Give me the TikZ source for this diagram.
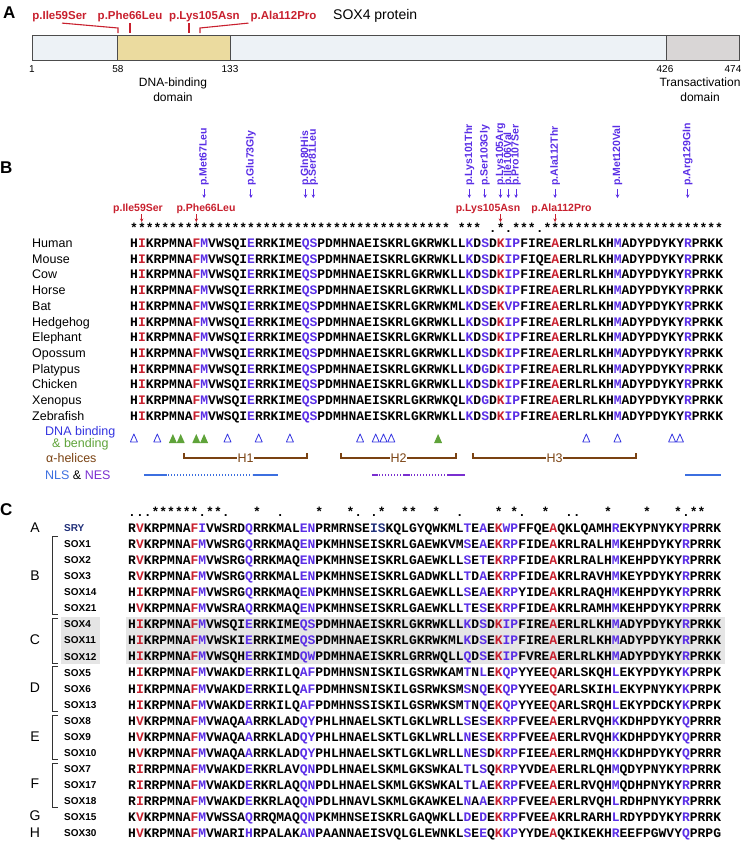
\documentclass[tikz,border=0pt]{standalone}
\usepackage{fontspec}
\setmainfont{Liberation Sans}
\newfontfamily\seqfont{Liberation Mono}
\usetikzlibrary{arrows.meta, positioning}
\definecolor{mutred}{HTML}{C8202E}
\definecolor{mutblue}{HTML}{5A2EE6}
\definecolor{nlsblue}{HTML}{3C6FE0}
\definecolor{nespurple}{HTML}{7A2FD0}
\definecolor{helixbrown}{HTML}{7A4212}
\definecolor{bindgreen}{HTML}{5FA33A}
\definecolor{bindblue}{HTML}{3434E0}
\definecolor{barblue}{HTML}{EDF2F6}
\definecolor{hmgyellow}{HTML}{EBDB9F}
\definecolor{tadgray}{HTML}{D9D6D6}
\definecolor{hilite}{HTML}{E5E5E5}
\definecolor{srynavy}{HTML}{1F2E78}

% residue colouring: index 0 = first residue of the row
\makeatletter
\newcount\resi
\def\redpos{,1,8,47,54,}
\def\bluepos{,9,15,22,23,43,45,48,49,62,71,}
\def\navypos{}
\def\aacol#1{%
  \edef\@tempa{\noexpand\in@{,\the\resi,}{\redpos}}\@tempa
  \ifin@ \textcolor{mutred}{#1}%
  \else
    \edef\@tempa{\noexpand\in@{,\the\resi,}{\bluepos}}\@tempa
    \ifin@ \textcolor{mutblue}{#1}%
    \else
      \edef\@tempa{\noexpand\in@{,\the\resi,}{\navypos}}\@tempa
      \ifin@ \textcolor{srynavy}{#1}\else #1\fi
    \fi
  \fi}
\def\aaloop#1{\ifx#1\relax\else\aacol{#1}\advance\resi by 1\relax\expandafter\aaloop\fi}
\newcommand\aaseq[1]{\resi=0\relax\expandafter\aaloop#1\relax}
\def\consloop#1{\ifx#1\relax\else\if#1-\hphantom{*}\else#1\fi\expandafter\consloop\fi}
\newcommand\conserv[1]{\consloop#1\relax}
\makeatother

\tikzset{
  panel/.style={font=\fontsize{17}{17}\selectfont\bfseries, anchor=west, inner sep=0},
  title/.style={font=\fontsize{14}{14}\selectfont, anchor=west, inner sep=0},
  mutlab/.style={font=\fontsize{11.5}{11.5}\selectfont\bfseries, text=mutred, anchor=base, inner sep=0},
  vlab/.style={font=\fontsize{10.5}{10.5}\selectfont\bfseries, text=mutblue, rotate=90, anchor=west, inner sep=0},
  resnum/.style={font=\fontsize{10}{10}\selectfont, inner sep=0},
  domlab/.style={font=\fontsize{12}{15}\selectfont, align=center, inner sep=0},
  domainbox/.style={draw=black!70, line width=0.8pt, fill=barblue},
  mutline/.style={draw=mutred, line width=1.1pt},
  redarrow/.style={draw=mutred, line width=1pt, -{Stealth[length=3.5pt,width=3.5pt]}},
  bluearrow/.style={draw=mutblue, line width=1pt, -{Stealth[length=3.5pt,width=3.5pt]}},
  seqtxt/.style={font=\seqfont\bfseries\fontsize{13}{13}\selectfont, anchor=base west, inner sep=0},
  species/.style={font=\fontsize{12.5}{12.5}\selectfont, anchor=base west, inner sep=0},
  soxname/.style={font=\fontsize{10}{10}\selectfont\bfseries, anchor=base west, inner sep=0},
  legend/.style={font=\fontsize{12.5}{12.5}\selectfont, anchor=base west, inner sep=0},
  grplet/.style={font=\fontsize{14}{14}\selectfont, inner sep=0},
  opentri/.style={draw=bindblue, line width=0.8pt, line join=round},
  filltri/.style={fill=bindgreen},
  helixline/.style={draw=helixbrown, line width=1.2pt},
  helixlab/.style={font=\fontsize{12.5}{12.5}\selectfont, text=helixbrown, fill=white, inner sep=1pt},
  nlssolid/.style={line width=2pt},
  nlsdots/.style={line width=1.2pt, dash pattern=on 1.2pt off 1.8pt},
  grpbracket/.style={draw=black!80, line width=0.8pt}
}

\begin{document}
\begin{tikzpicture}[x=1pt, y=-1pt]
\useasboundingbox (0,0) rectangle (747,841);

% ---------- A: protein scheme
\node[panel] (pa) at (3,13) {A};
\node[title] (prot) at (333,16) {SOX4 protein};
\draw[domainbox] (32,35) rectangle (117,60);
\draw[domainbox, fill=hmgyellow] (117,35) rectangle (230,60);
\draw[domainbox] (230,35) rectangle (666,60);
\draw[domainbox, fill=tadgray] (666,35) rectangle (739,60);
\node[resnum] (n1) at (32,69) {1};
\node[resnum] (n58) at (118,69) {58};
\node[resnum] (n133) at (230,69) {133};
\node[resnum] (n426) at (665,69) {426};
\node[resnum] (n474) at (733,69) {474};
\node[domlab] (dbd) at (173,89.5) {DNA-binding\\domain};
\node[domlab] (tad) at (700,89.5) {Transactivation\\domain};

\node[mutlab] (a59) at (59.5,19) {p.Ile59Ser};
\node[mutlab] (a66) at (130,19) {p.Phe66Leu};
\node[mutlab] (a105) at (204.5,19) {p.Lys105Asn};
\node[mutlab] (a112) at (283.5,19) {p.Ala112Pro};
\coordinate (r59) at (118,33);
\coordinate (r66) at (130,33);
\coordinate (r105) at (189,33);
\coordinate (r112) at (200,33);
\draw[mutline] ([xshift=2.5pt,yshift=-1.5pt]a59.south) -- (118,28) -- (r59);
\draw[mutline] ([yshift=-1.5pt]a66.south) -- (r66);
\draw[mutline] ([yshift=-1.5pt]r105 |- a105.south) -- (r105);
\draw[mutline] ([xshift=-35pt,yshift=-1.5pt]a112.south) -- (200,28) -- (r112);

% ---------- B: orthologue alignment
\node[panel] (pb) at (0,168) {B};
\foreach \k/\lab in {9/p.Met67Leu, 15/p.Glu73Gly, 22/p.Gln80His, 23/p.Ser81Leu,
    43/p.Lys101Thr, 45/p.Ser103Gly, 47/p.Lys105Arg, 48/p.Ile106Val,
    49/p.Pro107Ser, 54/p.Ala112Thr, 62/p.Met120Val, 71/p.Arg129Gln} {
  \node[vlab] (bm\k) at ({133.9+7.8*\k},186) {\lab};
  \coordinate (bt\k) at ({133.9+7.8*\k},198);
  \draw[bluearrow] ([yshift=-3pt]bm\k.west) -- (bt\k);
}
\foreach \k/\cx/\lab in {1/138/p.Ile59Ser, 8/206/p.Phe66Leu, 47/488/p.Lys105Asn, 54/561.5/p.Ala112Pro} {
  \node[mutlab, font=\fontsize{10.5}{10.5}\selectfont\bfseries] (br\k) at (\cx,211) {\lab};
  \coordinate (bv\k) at ({133.9+7.8*\k},222);
  \draw[redarrow] ([yshift=-1pt]bv\k |- br\k.south) -- (bv\k);
}
\node[seqtxt] (bcons) at (130,232)
  {\conserv{*****************************************-***-.*.***.***********************}};
\foreach \nm/\sq [count=\i from 0] in {
    Human/HIKRPMNAFMVWSQIERRKIMEQSPDMHNAEISKRLGKRWKLLKDSDKIPFIREAERLRLKHMADYPDYKYRPRKK,
    Mouse/HIKRPMNAFMVWSQIERRKIMEQSPDMHNAEISKRLGKRWKLLKDSDKIPFIQEAERLRLKHMADYPDYKYRPRKK,
    Cow/HIKRPMNAFMVWSQIERRKIMEQSPDMHNAEISKRLGKRWKLLKDSDKIPFIREAERLRLKHMADYPDYKYRPRKK,
    Horse/HIKRPMNAFMVWSQIERRKIMEQSPDMHNAEISKRLGKRWKLLKDSDKIPFIREAERLRLKHMADYPDYKYRPRKK,
    Bat/HIKRPMNAFMVWSQIERRKIMEQSPDMHNAEISKRLGKRWKMLKDSEKVPFIREAERLRLKHMADYPDYKYRPRKK,
    Hedgehog/HIKRPMNAFMVWSQIERRKIMEQSPDMHNAEISKRLGKRWKLLKDSDKIPFIREAERLRLKHMADYPDYKYRPRKK,
    Elephant/HIKRPMNAFMVWSQIERRKIMEQSPDMHNAEISKRLGKRWKLLKDSDKIPFIREAERLRLKHMADYPDYKYRPRKK,
    Opossum/HIKRPMNAFMVWSQIERRKIMEQSPDMHNAEISKRLGKRWKLLKDSDKIPFIREAERLRLKHMADYPDYKYRPRKK,
    Platypus/HIKRPMNAFMVWSQIERRKIMEQSPDMHNAEISKRLGKRWKLLKDGDKIPFIREAERLRLKHMADYPDYKYRPRKK,
    Chicken/HIKRPMNAFMVWSQIERRKIMEQSPDMHNAEISKRLGKRWKLLKDSDKIPFIREAERLRLKHMADYPDYKYRPRKK,
    Xenopus/HIKRPMNAFMVWSQIERRKIMEQSPDMHNAEISKRLGKRWKQLKDGDKIPFIREAERLRLKHMADYPDYKYRPRKK,
    Zebrafish/HIKRPMNAFMVWSQIERRKIMEQSPDMHNAEISKRLGKRWKLLKDSDKIPFIREAERLRLKHMADYPDYKYRPRKK} {
  \node[species] (bn\i) at (32,{247.5+15.7*\i}) {\nm};
  \node[seqtxt] (bs\i) at (130,{247.5+15.7*\i}) {\aaseq{\sq}};
}

% legend rows
\node[legend, text=bindblue] (ldna) at (45,435.5) {DNA binding};
\node[legend, text=bindgreen] (lbend) at (52,447.5) {\& bending};
\node[legend, text=helixbrown] (lhel) at (46,462.5) {α-helices};
\node[legend] (lnls) at (45,479.5) {\textcolor{nlsblue}{NLS} \& \textcolor{nespurple}{NES}};
\foreach \k in {0,3,12,16,20,29,31,32,33,58,62,69,70}
  \draw[opentri] ({133.9+7.8*\k-3.5},442) -- ++(3.5,-8) -- ++(3.5,8) -- cycle;
\foreach \k in {5,6,8,9,39}
  \fill[filltri] ({133.9+7.8*\k-4},443) -- ++(4,-9) -- ++(4,9) -- cycle;
\foreach \xa/\xb/\h in {184/307/H1, 341/456/H2, 473/636/H3} {
  \draw[helixline] (\xa,453) -- (\xa,458) -- (\xb,458) -- (\xb,453);
  \node[helixlab] (\h) at ({(\xa+\xb)/2},458) {\h};
}
\draw[nlssolid, nlsblue] (144,475) -- (167,475);
\draw[nlsdots, nlsblue] (168,475) -- (252,475);
\draw[nlssolid, nlsblue] (253,475) -- (278,475);
\draw[nlssolid, nespurple] (372,475) -- (378,475);
\draw[nlsdots, nespurple] (379,475) -- (402,475);
\draw[nlssolid, nespurple] (403,475) -- (410,475);
\draw[nlsdots, nespurple] (411,475) -- (446,475);
\draw[nlssolid, nespurple] (447,475) -- (465,475);
\draw[nlssolid, nlsblue] (685,475) -- (721,475);

% ---------- C: SOX family alignment
\node[panel] (pc) at (0,510) {C};
\fill[hilite] (61,617) rectangle (100,664);
\fill[hilite] (126,617) rectangle (725,664);
\node[seqtxt] (ccons) at (128,516)
  {\conserv{...******.**.---*--.----*---*.-.*--**--*--.----*-*.--*--..---*----*---*.**--}};
\foreach \nm/\sq [count=\i from 0] in {
    \textcolor{srynavy}{SRY}/RVKRPMNAFIVWSRDQRRKMALENPRMRNSEISKQLGYQWKMLTEAEKWPFFQEAQKLQAMHREKYPNYKYRPRRK,
    SOX1/RVKRPMNAFMVWSRGQRRKMAQENPKMHNSEISKRLGAEWKVMSEAEKRPFIDEAKRLRALHMKEHPDYKYRPRRK,
    SOX2/RVKRPMNAFMVWSRGQRRKMAQENPKMHNSEISKRLGAEWKLLSETEKRPFIDEAKRLRALHMKEHPDYKYRPRRK,
    SOX3/RVKRPMNAFMVWSRGQRRKMALENPKMHNSEISKRLGADWKLLTDAEKRPFIDEAKRLRAVHMKEYPDYKYRPRRK,
    SOX14/HIKRPMNAFMVWSRGQRRKMAQENPKMHNSEISKRLGAEWKLLSEAEKRPYIDEAKRLRAQHMKEHPDYKYRPRRK,
    SOX21/HVKRPMNAFMVWSRAQRRKMAQENPKMHNSEISKRLGAEWKLLTESEKRPFIDEAKRLRAMHMKEHPDYKYRPRRK,
    SOX4/HIKRPMNAFMVWSQIERRKIMEQSPDMHNAEISKRLGKRWKLLKDSDKIPFIREAERLRLKHMADYPDYKYRPRKK,
    SOX11/HIKRPMNAFMVWSKIERRKIMEQSPDMHNAEISKRLGKRWKMLKDSEKIPFIREAERLRLKHMADYPDYKYRPRKK,
    SOX12/HIKRPMNAFMVWSQHERRKIMDQWPDMHNAEISKRLGRRWQLLQDSEKIPFVREAERLRLKHMADYPDYKYRPRKK,
    SOX5/HIKRPMNAFMVWAKDERRKILQAFPDMHNSNISKILGSRWKAMTNLEKQPYYEEQARLSKQHLEKYPDYKYKPRPK,
    SOX6/HIKRPMNAFMVWAKDERRKILQAFPDMHNSNISKILGSRWKSMSNQEKQPYYEEQARLSKIHLEKYPNYKYKPRPK,
    SOX13/HIKRPMNAFMVWAKDERRKILQAFPDMHNSSISKILGSRWKSMTNQEKQPYYEEQARLSRQHLEKYPDCKYKPRPK,
    SOX8/HVKRPMNAFMVWAQAARRKLADQYPHLHNAELSKTLGKLWRLLSESEKRPFVEEAERLRVQHKKDHPDYKYQPRRR,
    SOX9/HVKRPMNAFMVWAQAARRKLADQYPHLHNAELSKTLGKLWRLLNESEKRPFVEEAERLRVQHKKDHPDYKYQPRRR,
    SOX10/HVKRPMNAFMVWAQAARRKLADQYPHLHNAELSKTLGKLWRLLNESDKRPFIEEAERLRMQHKKDHPDYKYQPRRR,
    SOX7/RIRRPMNAFMVWAKDERKRLAVQNPDLHNAELSKMLGKSWKALTLSQKRPYVDEAERLRLQHMQDYPNYKYRPRRK,
    SOX17/RIRRPMNAFMVWAKDERKRLAQQNPDLHNAELSKMLGKSWKALTLAEKRPFVEEAERLRVQHMQDHPNYKYRPRRR,
    SOX18/RIRRPMNAFMVWAKDERKRLAQQNPDLHNAVLSKMLGKAWKELNAAEKRPFVEEAERLRVQHLRDHPNYKYRPRRK,
    SOX15/KVKRPMNAFMVWSSAQRRQMAQQNPKMHNSEISKRLGAQWKLLDEDEKRPFVEEAKRLRARHLRDYPDYKYRPRRK,
    SOX30/HVKRPMNAFMVWARIHRPALAKANPAANNAEISVQLGLEWNKLSEEQKKPYYDEAQKIKEKHREEFPGWVYQPRPG} {
  \node[soxname] (cn\i) at (64,{531.6+16.05*\i}) {\nm};
  \node[seqtxt] (cs\i) at (128,{532.5+16.05*\i}) {\ifnum\i=0 \def\navypos{,31,32,}\fi\aaseq{\sq}};
}
\foreach \ya/\yb in {536/614, 618/663, 666/711, 715/759, 763/807}
  \draw[grpbracket] (58,\ya) -- (52,\ya) -- (52,\yb) -- (58,\yb);
\foreach \g/\y in {A/528, B/576, C/640, D/688, E/737, F/784, G/816, H/833}
  \node[grplet] (g\g) at (35,\y) {\g};
\end{tikzpicture}
\end{document}
